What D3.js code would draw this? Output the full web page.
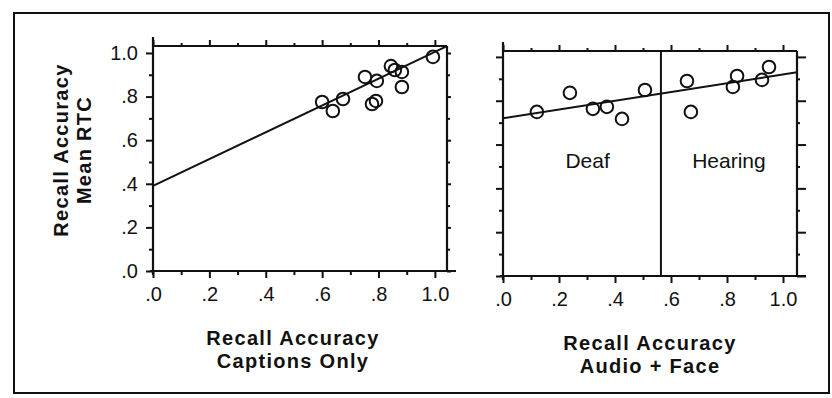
<!DOCTYPE html>
<html>
<head>
  <title>Recall accuracy</title>
  <meta charset='utf-8'>
  <style>
    body { margin: 0; background: #fff; }
    svg { display: block; font-family: "Liberation Sans", Arial, sans-serif; }
  </style>
</head>
<body>
  <div id="chart"></div>

  <script src="https://cdn.jsdelivr.net/npm/d3@7"></script>

  <script type="text/javascript">
    // values
    var captionsX = [0.60, 0.638, 0.674, 0.752, 0.794, 0.777, 0.791, 0.844, 0.858, 0.883, 0.883, 0.993];
    var captionsY = [0.775, 0.734, 0.789, 0.890, 0.872, 0.766, 0.780, 0.940, 0.922, 0.913, 0.844, 0.982];
    var audioX = [0.121, 0.239, 0.321, 0.371, 0.425, 0.507, 0.657, 0.671, 0.821, 0.836, 0.925, 0.950];
    var audioY = [0.749, 0.836, 0.763, 0.772, 0.717, 0.849, 0.890, 0.749, 0.863, 0.913, 0.895, 0.954];
    var captionsFit = [0.39, 0.615];   // intercept, slope
    var audioFit = [0.72, 0.20];
    var groupSplit = 0.564;            // Deaf | Hearing boundary
    var groupLabels = ["Deaf", "Hearing"];
    var majorTicks = [0, 0.2, 0.4, 0.6, 0.8, 1.0];
    var minorTicks = [0.1, 0.3, 0.5, 0.7, 0.9];
    var tickLabels = [".0", ".2", ".4", ".6", ".8", "1.0"];

    var width = 832,
        height = 398;

    var svg = d3.select("#chart")
                .append("svg")
                .attr("width", width)
                .attr("height", height);

    svg.append("rect")
       .attr("width", width).attr("height", height)
       .attr("fill", "#fff");

    // outer frame
    svg.append("rect")
       .attr("x", 14).attr("y", 13)
       .attr("width", 815).attr("height", 380)
       .attr("fill", "none")
       .attr("stroke", "#111")
       .attr("stroke-width", 2);

    function fmt(d) { return tickLabels[majorTicks.indexOf(d)]; }

    function panel(opts) {
      var x = d3.scaleLinear().domain([0, opts.xMax]).range([opts.left, opts.right]),
          y = d3.scaleLinear().domain([0, opts.yMax]).range([opts.bottom, opts.top]);
      var g = svg.append("g");

      function addAxis(axis, tr, vals, size, labels) {
        var a = g.append("g")
                 .attr("transform", tr)
                 .call(axis.tickValues(vals).tickSize(size).tickSizeOuter(0)
                         .tickPadding(6)
                         .tickFormat(labels ? fmt : function() { return ""; }));
        a.select(".domain").remove();
        a.selectAll("line").attr("stroke", "#111").attr("stroke-width", 2);
        a.selectAll("text").attr("fill", "#111").style("font-size", "20px");
        return a;
      }

      // bottom
      addAxis(d3.axisBottom(x), "translate(0," + opts.bottom + ")", majorTicks, 7, true)
        .selectAll("text").attr("dy", "0.85em");
      addAxis(d3.axisBottom(x), "translate(0," + opts.bottom + ")", minorTicks, 4, false);
      // top
      addAxis(d3.axisTop(x), "translate(0," + opts.top + ")", majorTicks, 6, false);
      addAxis(d3.axisTop(x), "translate(0," + opts.top + ")", minorTicks, 3, false);
      // left
      addAxis(d3.axisLeft(y), "translate(" + opts.left + ",0)", majorTicks, 7, opts.yLabels)
        .selectAll("text").attr("dx", "-0.1em");
      addAxis(d3.axisLeft(y), "translate(" + opts.left + ",0)", minorTicks, 4, false);
      // right
      addAxis(d3.axisRight(y), "translate(" + opts.right + ",0)", majorTicks, opts.rightMajor, false);
      addAxis(d3.axisRight(y), "translate(" + opts.right + ",0)", minorTicks, 3, false);

      // frame lines, axes run a little past the corners
      var frame = [
        [opts.left, opts.top - 9, opts.left, opts.bottom + 4],
        [opts.left - 3, opts.bottom, opts.right + 9, opts.bottom],
        [opts.left, opts.top, opts.right, opts.top],
        [opts.right, opts.top, opts.right, opts.bottom]
      ];
      g.selectAll(".frame")
       .data(frame)
       .enter()
       .append("line")
       .attr("x1", function(d) { return d[0]; })
       .attr("y1", function(d) { return d[1]; })
       .attr("x2", function(d) { return d[2]; })
       .attr("y2", function(d) { return d[3]; })
       .attr("stroke", "#111")
       .attr("stroke-width", 2.2);

      // regression line across the whole plot
      g.append("line")
       .attr("x1", x(0)).attr("y1", y(opts.fit[0]))
       .attr("x2", x(opts.xMax)).attr("y2", y(opts.fit[0] + opts.fit[1] * opts.xMax))
       .attr("stroke", "#111")
       .attr("stroke-width", 2);

      g.selectAll(".pt")
       .data(d3.zip(opts.xs, opts.ys))
       .enter()
       .append("circle")
       .attr("cx", function(d) { return x(d[0]); })
       .attr("cy", function(d) { return y(d[1]); })
       .attr("r", 6.3)
       .attr("fill", "none")
       .attr("stroke", "#111")
       .attr("stroke-width", 2);

      // x axis title
      var t = g.append("text")
               .attr("text-anchor", "middle")
               .attr("font-weight", "bold")
               .attr("fill", "#111")
               .style("font-size", "20px")
               .style("letter-spacing", "1.3px");
      t.append("tspan").attr("x", opts.titleX).attr("y", opts.bottom + 74).text(opts.title[0]);
      t.append("tspan").attr("x", opts.titleX).attr("y", opts.bottom + 97).text(opts.title[1]);

      return { g: g, x: x, y: y };
    }

    panel({
      left: 153, right: 447, top: 46, bottom: 271,
      xMax: 1.043, yMax: 1.032,
      xs: captionsX, ys: captionsY, fit: captionsFit,
      yLabels: true, rightMajor: 4,
      title: ["Recall Accuracy", "Captions Only"], titleX: 293
    });

    var right = panel({
      left: 503, right: 797, top: 51, bottom: 276,
      xMax: 1.05, yMax: 1.027,
      xs: audioX, ys: audioY, fit: audioFit,
      yLabels: false, rightMajor: 9,
      title: ["Recall Accuracy", "Audio + Face"], titleX: 650
    });

    // group divider and labels
    right.g.append("line")
       .attr("x1", right.x(groupSplit)).attr("x2", right.x(groupSplit))
       .attr("y1", right.y.range()[1]).attr("y2", right.y.range()[0])
       .attr("stroke", "#111")
       .attr("stroke-width", 2);

    right.g.selectAll(".grp")
       .data(groupLabels)
       .enter()
       .append("text")
       .attr("x", function(d, i) { return i === 0 ? right.x(groupSplit / 2 + 0.02) : right.x((groupSplit + 1.05) / 2); })
       .attr("y", 168)
       .attr("text-anchor", "middle")
       .attr("fill", "#111")
       .style("font-size", "21px")
       .text(function(d) { return d; });

    // y axis title, rotated
    var yt = svg.append("text")
                .attr("text-anchor", "middle")
                .attr("font-weight", "bold")
                .attr("fill", "#111")
                .attr("transform", "translate(68,150) rotate(-90)")
                .style("font-size", "20px")
                .style("letter-spacing", "1.3px");
    yt.append("tspan").attr("x", 0).attr("y", 0).text("Recall Accuracy");
    yt.append("tspan").attr("x", 0).attr("y", 23).text("Mean RTC");
  </script>
</body>
</html>
